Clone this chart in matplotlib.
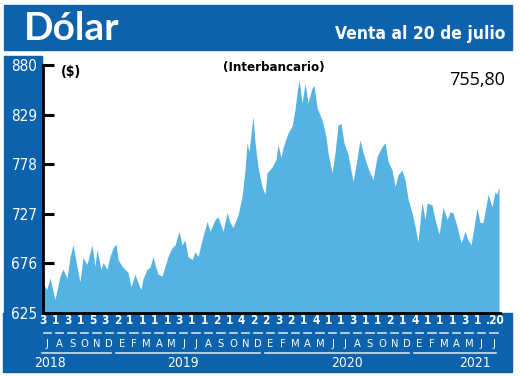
import matplotlib
matplotlib.use("Agg")
import matplotlib.pyplot as plt
from matplotlib.patches import Rectangle
import matplotlib.transforms as mtransforms

# Dólar interbancario, meses desde julio 2018 (0 = 1 jul 2018)
t_month = [0.00, 0.30, 0.56, 0.97, 1.37, 1.61, 1.94, 2.18, 2.42, 2.74, 2.98, 3.23,
           3.55, 3.79, 3.95, 4.19, 4.35, 4.68, 4.84, 5.16, 5.40, 5.65, 5.89, 6.05,
           6.37, 6.61, 6.85, 7.10, 7.42, 7.66, 7.90, 8.06, 8.39, 8.63, 8.87, 9.03,
           9.27, 9.60, 9.84, 10.08, 10.40, 10.65, 10.81, 10.97, 11.21, 11.45, 11.69,
           12.02, 12.26, 12.50, 12.90, 13.23, 13.47, 13.87, 14.11, 14.52, 14.84,
           15.08, 15.32, 15.73, 16.05, 16.29, 16.45, 16.61, 16.94, 17.10, 17.34,
           17.66, 17.90, 18.06, 18.47, 18.79, 18.95, 19.19, 19.35, 19.76, 20.08,
           20.32, 20.48, 20.65, 20.89, 21.13, 21.37, 21.69, 21.85, 22.10, 22.42,
           22.58, 22.82, 22.98, 23.31, 23.55, 23.79, 24.03, 24.27, 24.60, 25.00,
           25.32, 25.56, 25.81, 26.21, 26.61, 26.94, 27.34, 27.58, 27.82, 28.15,
           28.39, 28.63, 28.95, 29.19, 29.44, 29.76, 30.00, 30.24, 30.56, 30.81,
           30.97, 31.37, 31.61, 31.94, 32.26, 32.58, 32.82, 33.06, 33.39, 33.71,
           34.03, 34.27, 34.52, 34.68, 35.00, 35.24, 35.48, 35.89, 36.21, 36.45,
           36.61, 36.77]
valor = [656, 649, 661, 639, 663, 670, 661, 683, 695, 673, 657, 682,
         675, 687, 695, 673, 690, 670, 677, 670, 683, 692, 696, 680,
         673, 670, 667, 652, 665, 656, 649, 660, 670, 672, 683, 675,
         665, 663, 673, 683, 692, 695, 702, 709, 695, 700, 683,
         680, 688, 683, 704, 719, 709, 721, 724, 709, 728,
         718, 713, 726, 745, 772, 800, 791, 827, 800, 775,
         755, 747, 769, 775, 783, 798, 785, 795, 810, 817,
         834, 851, 865, 841, 861, 841, 856, 859, 836, 826,
         820, 806, 790, 769, 790, 818, 820, 800, 788, 760,
         783, 803, 790, 774, 762, 786, 796, 800, 781, 772,
         755, 767, 772, 762, 742, 728, 714, 698, 739, 721,
         738, 736, 721, 706, 734, 721, 729, 728, 714, 697,
         709, 700, 695, 708, 733, 718, 718, 747, 734, 750,
         747, 755.8]

y_ticks = [625, 676, 727, 778, 829, 880]
meses = ["J", "A", "S", "O", "N", "D",
         "E", "F", "M", "A", "M", "J", "J", "A", "S", "O", "N", "D",
         "E", "F", "M", "A", "M", "J", "J", "A", "S", "O", "N", "D",
         "E", "F", "M", "A", "M", "J", "J"]
dias = ["3", "1", "3", "1", "5", "3",
        "2", "1", "1", "1", "1", "3", "1", "1", "2", "1", "4", "2",
        "2", "3", "2", "1", "4", "1", "1", "3", "1", "1", "2", "1",
        "4", "1", "1", "1", "3", "1", ".20"]
anios = ["2018", "2019", "2020", "2021"]
anio_meses = [(0, 6), (6, 18), (18, 30), (30, 37)]

AZUL = "#0d62ad"
CELESTE = "#55b3e3"
W, H = 520, 376
cond = dict(family=["DejaVu Sans"], fontstretch="condensed")

fig = plt.figure(figsize=(W / 100, H / 100), dpi=100)

def px(x, y, w, h, **kw):
    # rectangulo en pixeles de la imagen (origen arriba a la izquierda)
    fig.patches.append(Rectangle((x / W, 1 - (y + h) / H), w / W, h / H,
                                 transform=fig.transFigure, zorder=-5, **kw))

px(4, 5, 508, 45, color=AZUL)      # banda del titulo
px(4, 56, 38, 258, color=AZUL)     # franja izquierda
px(3, 313, 509, 59, color=AZUL)    # banda inferior

fig.text(24 / W, 1 - 28 / H, "Dólar", color="white", fontsize=28,
         fontweight="bold", family=["Lato", "DejaVu Sans"], va="center")
fig.text(505 / W, 1 - 34 / H, "Venta al 20 de julio", color="white",
         fontsize=12.5, fontweight="bold", ha="right", va="center", **cond)

ax = fig.add_axes([43 / W, 1 - 313 / H, (500 - 43) / W, (313 - 65) / H])
ax.fill_between(t_month, valor, 625, color=CELESTE, linewidth=0)
ax.set_xlim(0, 36.85)
ax.set_ylim(625, 880)
ax.set_facecolor("none")
for s in ["top", "right"]:
    ax.spines[s].set_visible(False)
ax.spines["left"].set_linewidth(2)
ax.spines["bottom"].set_linewidth(2)
ax.set_yticks(y_ticks)
ax.set_yticklabels([str(v) for v in y_ticks], color="white", fontsize=11,
                   **cond)
ax.tick_params(axis="y", direction="in", length=8, width=2.2, pad=4)
ax.set_xticks([])

ax.text(0.04, 1.0, "($)", transform=ax.transAxes, fontsize=10,
        fontweight="bold", va="top", **cond)
ax.text(0.505, 1.015, "(Interbancario)", transform=ax.transAxes, fontsize=9.5,
        fontweight="bold", ha="center", va="top", **cond)
ax.text(1.01, 0.975, "755,80", transform=ax.transAxes, fontsize=13,
        family=["Open Sans", "DejaVu Sans"], ha="right", va="top")

# etiquetas de la banda inferior
tr = mtransforms.blended_transform_factory(ax.transData, fig.transFigure)
for i, (d, m) in enumerate(zip(dias, meses)):
    xd = i if d != ".20" else 36.5
    ax.text(xd, 1 - 321 / H, d, transform=tr, color="white", fontsize=8.5,
            fontweight="bold", ha="center", va="center", **cond)
    ax.plot([i + 0.05, i + 0.65], [1 - 333 / H] * 2, transform=tr,
            color="white", lw=1.2, clip_on=False, alpha=0.8)
    ax.text(i + 0.35, 1 - 344 / H, m, transform=tr, color="white",
            fontsize=8, ha="center", va="center", **cond)
anio_x = [0.6, 11.3, 24.5, 34.8]
for a, (m0, m1), xa in zip(anios, anio_meses, anio_x):
    ax.plot([m0 - 0.1, m1 - 0.5], [1 - 353 / H] * 2, transform=tr,
            color="white", lw=1.2, clip_on=False, alpha=0.8)
    ax.text(xa, 1 - 363 / H, a, transform=tr, color="white", fontsize=10,
            ha="center", va="center", **cond)

fig.savefig("out.png", dpi=100)
